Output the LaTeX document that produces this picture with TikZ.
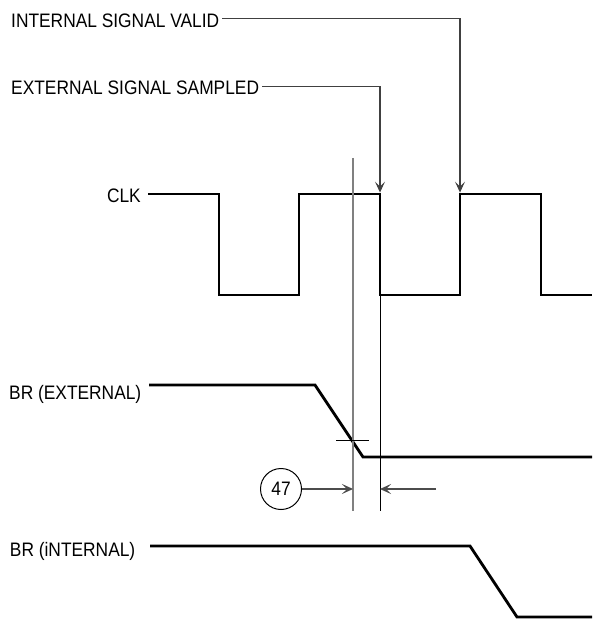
\documentclass[tikz,border=0pt]{standalone}
\usepackage{fontspec}
\setmainfont{Liberation Sans}[FakeStretch=0.89]
\usetikzlibrary{arrows.meta,positioning}
\tikzset{
  sig/.style={line width=2.8pt,line join=miter},
  lbl/.style={font=\fontsize{19.5}{22}\selectfont,inner sep=0pt},
  guide/.style={line width=1.1pt,draw=black!75},
  barb/.tip={Stealth[length=11pt,width=10pt,inset=5pt]},
  setline/.style={line width=1.5pt,draw=black!50},
  holdline/.style={line width=0.9pt,draw=black},
  dimline/.style={line width=1.1pt,draw=black!70}
}
\begin{document}
\begin{tikzpicture}[x=1pt,y=-1pt]
\useasboundingbox(0,0)rectangle(592,620);
% labels
\node[lbl,anchor=base west](isv)at(11,27.5){INTERNAL SIGNAL VALID};
\node[lbl,anchor=base west](ess)at(11,95){EXTERNAL SIGNAL SAMPLED};
\node[lbl,anchor=base east](clk)at(141,203){CLK};
\node[lbl,anchor=base east](bre)at(141.5,399){BR (EXTERNAL)};
\node[lbl,anchor=base east](bri)at(135.5,556){BR (iNTERNAL)};
% CLK
\coordinate(fallA)at(380,194);
\coordinate(riseB)at(460,194);
\draw[sig](148,194)-|(219,295)-|(299,194)-|(380,295)coordinate(lowA)-|(460,194)-|(541,295)--(592,295);
% BR
\draw[sig](149,385)--(315,385)--(363,457)--(592,457);
\draw[sig](150,546)--(470,546)--(517,617)--(592,617);
% leaders to the clock edges
\draw[guide,-barb,shorten >=1.4pt](isv.north east)++(3,4.5)-|(riseB);
\draw[guide,-barb,shorten >=1.4pt](ess.north east)++(3,5)-|(fallA);
% setup time
\coordinate(setT)at(353,158);
\coordinate(setB)at(353,511);
\draw[setline](setT)--(setB);
\draw[holdline](lowA)--(380,511)coordinate(holdB);
\draw[holdline](336,440)--(369,440);%crossing
\node[lbl,circle,draw,line width=1pt,minimum size=41pt](n47)at(281,489){47};
\draw[dimline,-barb](n47)--(setB|-n47);
\draw[dimline,-barb](436,489)--(holdB|-n47);
\end{tikzpicture}
\end{document}
